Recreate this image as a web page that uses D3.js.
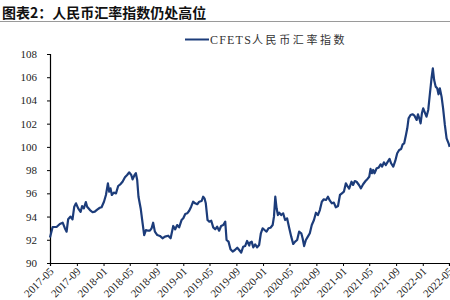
<!DOCTYPE html>
<html>
<head>
<meta charset="utf-8">
<script src="https://cdn.jsdelivr.net/npm/d3@7/dist/d3.min.js"></script>
<style>
  html, body { margin: 0; padding: 0; background: #fff; }
  svg { display: block; }
</style>
</head>
<body>
<svg id="chart" width="450" height="300"></svg>
<script>
const title = "图表2：人民币汇率指数仍处高位";
const seriesName = "CFETS人民币汇率指数";
const tickLabels = ["2017-05","2017-09","2018-01","2018-05","2018-09","2019-01","2019-05","2019-09","2020-01","2020-05","2020-09","2021-01","2021-05","2021-09","2022-01","2022-05"];
const yTicks = [90,92,94,96,98,100,102,104,106,108];

const dates = [
"2017-05-01","2017-05-13","2017-05-31","2017-06-15","2017-06-28","2017-07-08","2017-07-16","2017-07-23","2017-08-03","2017-08-12",
"2017-08-20","2017-08-28","2017-09-07","2017-09-18","2017-09-25","2017-10-03","2017-10-12","2017-10-18","2017-10-31","2017-11-12",
"2017-11-22","2017-12-03","2017-12-15","2017-12-23","2018-01-03","2018-01-12","2018-01-21","2018-01-27","2018-02-02","2018-02-08",
"2018-02-17","2018-02-27","2018-03-09","2018-03-20","2018-03-29","2018-04-09","2018-04-19","2018-04-28","2018-05-08","2018-05-14",
"2018-05-23","2018-05-29","2018-06-04","2018-06-10","2018-06-20","2018-06-29","2018-07-06","2018-07-14","2018-07-24","2018-08-01",
"2018-08-09","2018-08-16","2018-08-24","2018-09-04","2018-09-16","2018-09-28","2018-10-09","2018-10-24","2018-11-04","2018-11-16",
"2018-11-25","2018-12-04","2018-12-13","2018-12-24","2019-01-01","2019-01-10","2019-01-19","2019-01-28","2019-02-06","2019-02-15",
"2019-02-24","2019-03-06","2019-03-15","2019-03-26","2019-04-02","2019-04-08","2019-04-14","2019-04-22","2019-04-30","2019-05-09",
"2019-05-18","2019-05-27","2019-06-05","2019-06-14","2019-06-23","2019-07-03","2019-07-12","2019-07-18","2019-07-27","2019-08-05",
"2019-08-15","2019-08-25","2019-09-05","2019-09-14","2019-09-23","2019-10-02","2019-10-11","2019-10-20","2019-10-30","2019-11-02",
"2019-11-10","2019-11-17","2019-11-26","2019-12-05","2019-12-14","2019-12-22","2019-12-30","2020-01-08","2020-01-17","2020-01-26",
"2020-02-04","2020-02-14","2020-02-20","2020-02-26","2020-03-03","2020-03-09","2020-03-15","2020-03-24","2020-04-02","2020-04-11",
"2020-04-20","2020-04-30","2020-05-09","2020-05-18","2020-05-27","2020-06-05","2020-06-14","2020-06-24","2020-06-30","2020-07-07",
"2020-07-15","2020-07-24","2020-08-02","2020-08-11","2020-08-21","2020-08-30","2020-09-08","2020-09-17","2020-09-26","2020-10-05",
"2020-10-15","2020-10-24","2020-11-02","2020-11-11","2020-11-20","2020-11-29","2020-12-09","2020-12-18","2020-12-27","2021-01-05",
"2021-01-14","2021-01-23","2021-01-29","2021-02-09","2021-02-16","2021-02-24","2021-03-04","2021-03-15","2021-03-24","2021-04-03",
"2021-04-14","2021-04-23","2021-05-01","2021-05-07","2021-05-13","2021-05-19","2021-05-25","2021-06-04","2021-06-13","2021-06-22",
"2021-06-29","2021-07-07","2021-07-16","2021-07-25","2021-08-02","2021-08-09","2021-08-19","2021-08-28","2021-09-06","2021-09-15",
"2021-09-24","2021-10-01","2021-10-08","2021-10-16","2021-10-22","2021-10-28","2021-11-06","2021-11-15","2021-11-24","2021-12-04",
"2021-12-10","2021-12-16","2021-12-22","2021-12-28","2022-01-03","2022-01-12","2022-01-18","2022-01-26","2022-02-02","2022-02-10",
"2022-02-16","2022-02-22","2022-03-01","2022-03-08","2022-03-14","2022-03-20","2022-03-28","2022-04-04","2022-04-12","2022-04-20",
"2022-04-29","2022-05-04"
];

const values = [
92.2,93.1,93.1,93.36,93.47,93.0,92.7,93.76,94.0,93.76,
94.85,95.14,94.7,94.4,94.9,94.7,95.25,94.85,94.56,94.37,
94.42,94.6,94.76,94.8,95.28,95.86,96.86,96.14,96.43,95.86,
96.06,96.0,96.63,96.8,97.0,97.38,97.58,97.81,97.58,97.2,
97.58,97.73,97.15,95.7,94.7,93.4,92.4,92.84,92.78,92.78,
92.99,93.47,92.7,92.41,92.33,92.13,92.27,92.35,92.13,93.19,
92.9,93.27,93.07,93.7,93.85,94.22,94.28,94.5,94.85,95.28,
95.14,95.06,95.28,95.34,95.71,95.57,95.14,93.7,93.56,93.64,
93.07,92.9,93.13,92.78,93.19,93.27,93.56,91.98,91.84,91.18,
90.98,91.12,91.32,91.12,90.89,91.4,91.46,91.9,91.5,91.75,
91.84,91.35,91.61,91.35,91.55,92.56,92.99,92.84,92.7,92.99,
93.04,93.27,93.99,95.71,94.71,94.13,94.33,94.13,94.28,93.7,
93.85,92.99,92.27,91.64,91.84,91.98,92.7,92.56,92.13,91.46,
91.98,92.27,92.56,93.27,93.7,94.33,94.13,94.56,95.28,95.49,
95.43,95.71,95.37,95.14,95.2,94.8,94.91,95.86,96.0,96.14,
96.86,96.57,96.4,97.0,96.72,97.06,97.0,96.72,96.43,96.78,
97.06,97.24,97.43,98.1,97.73,98.01,97.73,98.16,98.21,98.5,
98.3,98.67,98.44,98.73,98.96,98.59,98.3,98.79,99.45,99.73,
99.82,100.22,100.31,101.02,101.6,102.46,102.75,102.81,102.69,102.32,
102.81,102.46,102.03,102.89,103.32,102.89,102.6,103.18,104.47,105.91,
106.77,105.76,105.19,105.05,104.53,105.05,104.33,103.32,101.89,100.74,
100.31,100.0
];

const parse = d3.utcParse("%Y-%m-%d");
const parseM = d3.utcParse("%Y-%m");
const data = dates.map((d, i) => ({ date: parse(d), value: values[i] }));

const svg = d3.select("#chart");
const serif = "'Liberation Serif','Times New Roman',serif";
const lineColor = "#1c3c7a";

// Title
svg.append("text")
  .attr("x", 2).attr("y", 18)
  .attr("font-family", "'Noto Sans CJK SC','Noto Sans',sans-serif")
  .attr("font-weight", "bold")
  .attr("font-size", 14)
  .attr("fill", "#111")
  .text(title);
svg.append("line")
  .attr("x1", 0).attr("x2", 450).attr("y1", 21.5).attr("y2", 21.5)
  .attr("stroke", "#9a9a9a").attr("stroke-width", 1);

// Scales
const x = d3.scaleUtc()
  .domain([parseM(tickLabels[0]), parseM(tickLabels[tickLabels.length - 1])])
  .range([50, 449]);
const y = d3.scaleLinear().domain([90, 108]).range([263, 54]);

// Y axis
const yAxis = svg.append("g")
  .attr("transform", "translate(50,0)")
  .call(d3.axisLeft(y).tickValues(yTicks).tickSize(3).tickPadding(10).tickFormat(d3.format("d")));
yAxis.select(".domain").attr("stroke", "#000").attr("stroke-width", 1.2);
yAxis.selectAll(".tick line").attr("stroke", "#000");
yAxis.selectAll("text").attr("font-family", serif).attr("font-size", 11).attr("fill", "#222");

// X axis
const xAxis = svg.append("g")
  .attr("transform", "translate(0,263)")
  .call(d3.axisBottom(x).tickValues(tickLabels.map(parseM)).tickSize(3).tickFormat(d3.utcFormat("%Y-%m")));
xAxis.select(".domain").attr("stroke", "#000").attr("stroke-width", 1.2);
xAxis.selectAll(".tick line").attr("stroke", "#000");
xAxis.selectAll("text")
  .attr("font-family", serif).attr("font-size", 11).attr("fill", "#222")
  .attr("text-anchor", "end")
  .attr("dy", null)
  .attr("y", 0)
  .attr("transform", "translate(4,9) rotate(-45)");

// Line
const line = d3.line().x(d => x(d.date)).y(d => y(d.value));
svg.append("path")
  .datum(data)
  .attr("fill", "none")
  .attr("stroke", lineColor)
  .attr("stroke-width", 2.2)
  .attr("stroke-linejoin", "round")
  .attr("d", line);

// Legend
svg.append("line")
  .attr("x1", 185).attr("x2", 209).attr("y1", 39.5).attr("y2", 39.5)
  .attr("stroke", lineColor).attr("stroke-width", 2);
const leg = svg.append("text")
  .attr("x", 210).attr("y", 44)
  .attr("font-family", "'Liberation Serif','Noto Sans CJK SC',serif")
  .attr("fill", "#333");
leg.append("tspan").attr("font-size", 12).attr("letter-spacing", 1.2).text(seriesName.slice(0, 5));
leg.append("tspan").attr("font-size", 11).attr("letter-spacing", 2.6).text(seriesName.slice(5));
</script>
</body>
</html>
